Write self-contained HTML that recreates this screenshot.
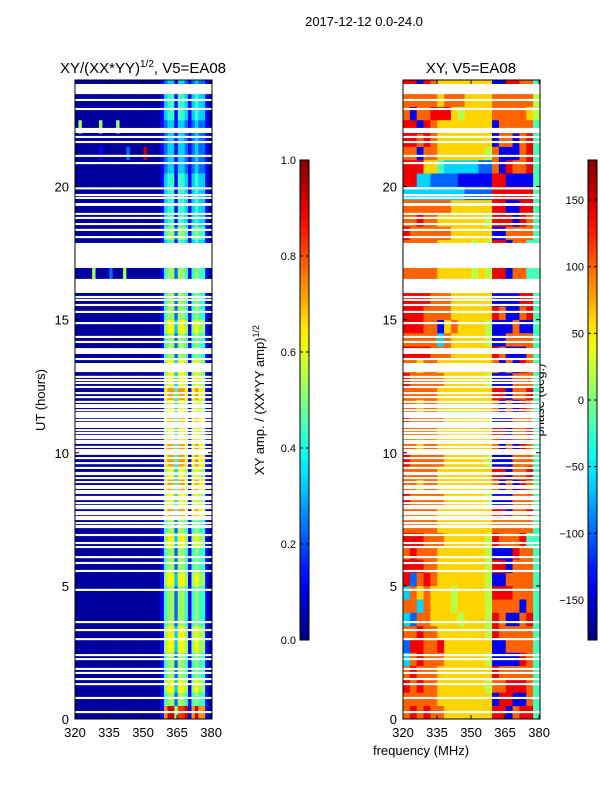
<!DOCTYPE html>
<html><head><meta charset="utf-8"><style>
body{margin:0;background:#fff;}
svg{display:block;font-family:"Liberation Sans",sans-serif;}
</style></head><body>
<svg id="c" width="600" height="800" viewBox="0 0 600 800" xmlns="http://www.w3.org/2000/svg">
<defs>
<linearGradient id="jet" x1="0" y1="1" x2="0" y2="0"></linearGradient>
</defs>
<text x="364" y="26" font-size="13" text-anchor="middle">2017-12-12 0.0-24.0</text>
<text x="143" y="73" font-size="15" text-anchor="middle">XY/(XX*YY)<tspan font-size="10" dy="-6">1/2</tspan><tspan dy="6">, V5=EA08</tspan></text>
<text x="471" y="73" font-size="15" text-anchor="middle">XY, V5=EA08</text>
<text transform="translate(45,400) rotate(-90)" font-size="13" text-anchor="middle">UT (hours)</text>
<text transform="translate(264,400) rotate(-90)" font-size="13" text-anchor="middle">XY amp. / (XX*YY amp)<tspan font-size="9" dy="-5">1/2</tspan></text>
<text transform="translate(544,400) rotate(-90)" font-size="13" text-anchor="middle">phase (deg.)</text>
<text x="421" y="755" font-size="13" text-anchor="middle">frequency (MHz)</text>
<g id="gL"></g>
<g id="gR"></g>
<g id="gA"></g>
</svg>
<script>
// ---- data ----
const xTicks = [320, 335, 350, 365, 380];
const yTicks = [0, 5, 10, 15, 20];
const ampTicks = [0.0, 0.2, 0.4, 0.6, 0.8, 1.0];
const ampTickLabels = ["0.0","0.2","0.4","0.6","0.8","1.0"];
const phaseTicks = [-150, -100, -50, 0, 50, 100, 150];
const phaseTickLabels = ["\u2212150","\u2212100","\u221250","0","50","100","150"];
// amplitude grid: 48 rows (0.5 h, from UT 0 up), 40 cols (1.51 MHz from 320)
const Z = "0000000000000000000000000";
const P3 = "123313321232210", P4 = "134414431343310", P5 = "145525541454410";
const P6 = "156636651565510", P7 = "167747761676610", P8 = "179958891797710";
const ampRows = [
 Z+P8, Z+P5, Z+P6, Z+P5, Z+P5, Z+P6, Z+P6, Z+P5, Z+P5, Z+P5,
 Z+P6, Z+P5, Z+P5, Z+P6, Z+P5, Z+P7, Z+P6, Z+P7, Z+P6, Z+P7,
 Z+P7, Z+P6, Z+P7, Z+P6, Z+P7, Z+P6, Z+P6, Z+P5, Z+P5, Z+P6,
 Z+P5, Z+P5, Z+P5, "0000050000200050000000000"+P5, Z+P4, Z+P4, Z+P5, Z+P4, Z+P4, Z+P4,
 Z+P4, Z+P3, "0000000100000002000090000"+P3, Z+P3, "0500000500005000000000000"+P3, Z+P4, Z+P4, Z+P3
];
// phase grid: 48 rows x 20 cols (3.02 MHz); digit d -> -180 + 40*d deg
const A = "77777666666668817784", B = "87777766666651117774", C = "77677666666667171874";
const phaseRows = [
 "78787766666668817884","77777666666661881174","87877666666657788874","78777666666668777774",
 "37877766666651111874","28877866666661177774","77877666666658777774","32776666566658711784",
 "77376665666657777174","37676665666658887774","82787666666651177774","88877666666658817774",
 "78777666666651118774","88877766666658777844","77777666666667777774",A,B,C,A,B,C,A,B,C,A,B,C,
 "88887776666668711174","77777376666651177774","88877167666651117114","88877776666668711784",
 "88887776666661111884","77777666666667777774","77777666665658817744","77777666665658817744",
 "77777666665658817744","87777776666661177774","77877666666658881874","77777776666668811884",
 "33333333322228888884","88332222111118811114","88866433333227187784","77177666666657111784",
 "88787666666661771784","88187666666661777774","71778886566667777765","77777677766667777775",
 "88187666666661188774"
];
// flagged (blank) time ranges, UT hours
const flagBlocks = [[23.47,23.85],[22.01,22.2],[19.27,19.38],[16.94,17.88],[16.0,16.53],[13.71,13.93],[13.48,13.56],[13.03,13.37],[9.92,10.14],[9.16,9.28],[7.17,7.29]];
const flagLines = [23.25,22.91,21.86,21.67,21.15,20.88,19.93,19.68,19.57,18.97,18.82,18.59,18.37,18.1,15.85,15.74,15.55,15.29,14.87,14.35,14.16,
 12.85,12.73,12.62,12.47,12.24,12.09,11.91,11.79,11.72,11.6,11.49,11.42,11.34,11.23,11.12,11.04,10.97,10.85,10.74,10.63,10.55,10.44,10.37,10.22,
 9.8,9.61,9.43,9.05,8.9,8.75,8.68,8.56,8.49,8.34,8.26,8.11,8.0,7.92,7.77,7.7,7.59,7.51,7.36,6.91,6.61,6.46,6.08,5.86,5.56,4.85,3.64,3.34,3.0,2.4,2.25,1.88,1.73,1.5,1.31,0.79,0.26];

// ---- scales ----
const NS = "http://www.w3.org/2000/svg";
const F0 = 320, F1 = 380.4, UT1 = 24;
const panels = [{x:75,w:137},{x:403,w:137}];
const Y0 = 719, YH = 639;
function xS(p, f){ return panels[p].x + (f - F0) / (F1 - F0) * panels[p].w; }
function yS(ut){ return Y0 - ut / UT1 * YH; }
function cb(v, lo, hi){ return 640 - (v - lo) / (hi - lo) * 480; }
function jet(t){
  t = Math.max(0, Math.min(1, t));
  const cl = v => Math.round(255 * Math.max(0, Math.min(1, v)));
  return "rgb(" + cl(1.5 - Math.abs(4*t - 3)) + "," + cl(1.5 - Math.abs(4*t - 2)) + "," + cl(1.5 - Math.abs(4*t - 1)) + ")";
}
function mk(tag, attrs, parent){
  const e = document.createElementNS(NS, tag);
  for (const k in attrs) e.setAttribute(k, attrs[k]);
  parent.appendChild(e); return e;
}
const gL = document.getElementById("gL"), gR = document.getElementById("gR"), gA = document.getElementById("gA");

// amplitude cells
const nA = ampRows[0].length, dA = (F1 - F0) / nA;
ampRows.forEach((row, r) => {
  for (let c = 0; c < row.length; c++) {
    const x0 = xS(0, F0 + c*dA), x1 = xS(0, F0 + (c+1)*dA);
    const e = mk("rect", {x:x0, y:yS((r+1)*0.5), width:x1-x0+0.3, height:yS(r*0.5)-yS((r+1)*0.5)+0.3, fill:jet(+row[c]/10 + 0.03)}, gL);
    
    
  }
});
// phase cells
const nP = phaseRows[0].length, dP = (F1 - F0) / nP;
phaseRows.forEach((row, r) => {
  for (let c = 0; c < row.length; c++) {
    const x0 = xS(1, F0 + c*dP), x1 = xS(1, F0 + (c+1)*dP);
    const e = mk("rect", {x:x0, y:yS((r+1)*0.5), width:x1-x0+0.3, height:yS(r*0.5)-yS((r+1)*0.5)+0.3, fill:jet(+row[c]/9)}, gR);
    
    
  }
});
// flags
[0,1].forEach(p => {
  const g = p ? gR : gL;
  flagBlocks.forEach(b => {
    const e = mk("rect", {x:panels[p].x, y:yS(b[1]), width:panels[p].w, height:yS(b[0])-yS(b[1]), fill:"#fff"}, g);
    
    
  });
  flagLines.forEach(u => {
    const e = mk("rect", {x:panels[p].x, y:yS(u+0.04), width:panels[p].w, height:yS(u-0.04)-yS(u+0.04), fill:"#fff"}, g);
    
    
  });
});
// axes frames & ticks
[0,1].forEach(p => {
  const px = panels[p].x, pw = panels[p].w;
  const fr = mk("rect", {x:px, y:80, width:pw, height:YH, fill:"none", stroke:"#000", "stroke-width":1}, gA);
  
  
  xTicks.forEach((t, i) => {
    const x = xS(p, t);
    mk("line", {x1:x, y1:Y0, x2:x, y2:Y0-4, stroke:"#000"}, gA);
    mk("line", {x1:x, y1:80, x2:x, y2:84, stroke:"#000"}, gA);
    const tx = mk("text", {x:x, y:737, "font-size":13, "text-anchor":"middle"}, gA);
    tx.textContent = xTicks[i];
    
    
  });
  yTicks.forEach((t, i) => {
    const y = yS(t);
    mk("line", {x1:px, y1:y, x2:px+4, y2:y, stroke:"#000"}, gA);
    mk("line", {x1:px+pw, y1:y, x2:px+pw-4, y2:y, stroke:"#000"}, gA);
    const tx = mk("text", {x:px-6, y:y+5, "font-size":13, "text-anchor":"end"}, gA);
    tx.textContent = yTicks[i];
    
    
  });
});
// colorbars
const grad = document.getElementById("jet");
for (let i = 0; i <= 20; i++) mk("stop", {offset:(i/20), "stop-color":jet(i/20)}, grad);
[{x:300, lo:0, hi:1, ticks:ampTicks, labels:ampTickLabels, name:"amp-colorbar"},
 {x:588, lo:-180, hi:180, ticks:phaseTicks, labels:phaseTickLabels, name:"phase-colorbar"}].forEach(b => {
  const e = mk("rect", {x:b.x, y:160, width:9, height:480, fill:"url(#jet)", stroke:"#000", "stroke-width":1}, gA);
  
  
  b.ticks.forEach((t, i) => {
    const y = cb(t, b.lo, b.hi);
    mk("line", {x1:b.x, y1:y, x2:b.x+3, y2:y, stroke:"#000"}, gA);
    mk("line", {x1:b.x+9, y1:y, x2:b.x+6, y2:y, stroke:"#000"}, gA);
    const tx = mk("text", {x:b.x-4, y:y+4, "font-size":11, "text-anchor":"end"}, gA);
    tx.textContent = b.labels[i];
    
    
  });
});
</script>
</body></html>
